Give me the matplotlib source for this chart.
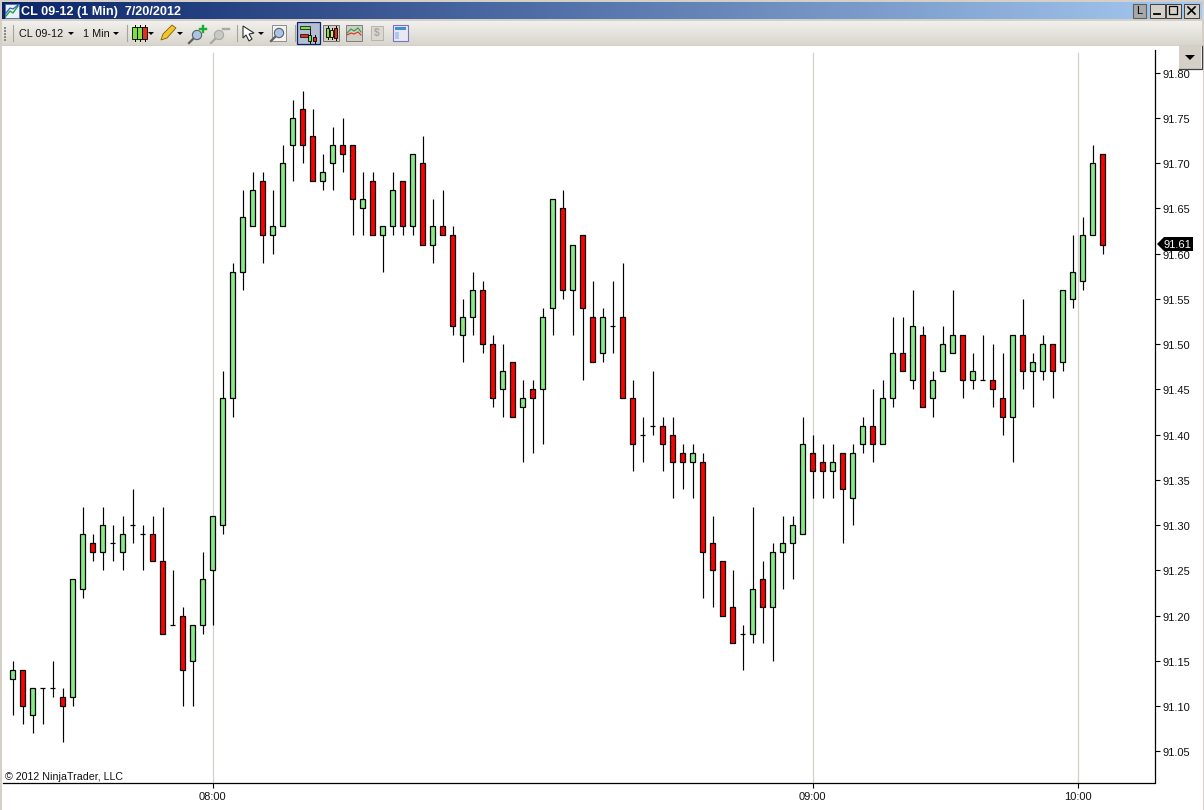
import numpy as np
import matplotlib
matplotlib.use("Agg")
import matplotlib.pyplot as plt
from matplotlib.patches import Polygon, Rectangle, Circle
from matplotlib.ticker import FixedLocator, FixedFormatter
from matplotlib.transforms import ScaledTranslation

plt.rcParams['font.family'] = ['Liberation Sans', 'DejaVu Sans']

# ---- data (price ticks) ----
opens = [91.13,91.14,91.09,91.12,91.12,91.11,91.11,91.23,91.28,91.27,91.28,91.27,91.30,91.29,91.29,91.26,91.19,91.20,91.15,91.19,
         91.25,91.30,91.44,91.58,91.63,91.68,91.62,91.63,91.72,91.76,91.73,91.68,91.70,91.72,91.72,91.65,91.68,91.62,91.63,91.68,
         91.63,91.70,91.61,91.63,91.62,91.51,91.53,91.56,91.50,91.45,91.48,91.43,91.45,91.45,91.54,91.65,91.56,91.62,91.53,91.49,
         91.52,91.53,91.44,91.40,91.41,91.41,91.40,91.38,91.37,91.37,91.28,91.26,91.21,91.18,91.18,91.24,91.21,91.27,91.28,91.29,
         91.38,91.37,91.36,91.38,91.33,91.39,91.41,91.39,91.44,91.49,91.46,91.51,91.44,91.47,91.49,91.51,91.46,91.46,91.46,91.44,
         91.42,91.51,91.47,91.47,91.50,91.48,91.55,91.57,91.62,91.71]
closes = [91.14,91.10,91.12,91.12,91.12,91.10,91.24,91.29,91.27,91.30,91.28,91.29,91.30,91.29,91.26,91.18,91.19,91.14,91.19,91.24,
          91.31,91.44,91.58,91.64,91.67,91.62,91.63,91.70,91.75,91.72,91.68,91.69,91.72,91.71,91.66,91.66,91.62,91.63,91.67,91.63,
          91.71,91.61,91.63,91.62,91.52,91.53,91.56,91.50,91.44,91.47,91.42,91.44,91.44,91.53,91.66,91.56,91.61,91.54,91.48,91.53,
          91.52,91.44,91.39,91.40,91.41,91.39,91.37,91.37,91.38,91.27,91.25,91.20,91.17,91.18,91.23,91.21,91.27,91.28,91.30,91.39,
          91.36,91.36,91.37,91.34,91.38,91.41,91.39,91.44,91.49,91.47,91.52,91.43,91.46,91.50,91.51,91.46,91.47,91.46,91.45,91.42,
          91.51,91.47,91.48,91.50,91.47,91.56,91.58,91.62,91.70,91.61]
highs = [91.15,91.14,91.12,91.12,91.15,91.12,91.24,91.32,91.29,91.32,91.30,91.31,91.34,91.30,91.31,91.32,91.25,91.21,91.19,91.27,
         91.31,91.47,91.59,91.67,91.69,91.69,91.67,91.72,91.77,91.78,91.76,91.71,91.74,91.75,91.72,91.69,91.69,91.63,91.69,91.68,
         91.71,91.73,91.66,91.67,91.63,91.55,91.58,91.57,91.51,91.50,91.48,91.46,91.46,91.54,91.66,91.67,91.61,91.62,91.57,91.54,
         91.57,91.59,91.46,91.42,91.47,91.42,91.42,91.39,91.39,91.38,91.31,91.26,91.25,91.19,91.32,91.26,91.28,91.31,91.31,91.42,
         91.40,91.39,91.39,91.38,91.39,91.42,91.45,91.46,91.53,91.53,91.56,91.52,91.47,91.52,91.56,91.51,91.49,91.51,91.50,91.49,
         91.51,91.55,91.49,91.51,91.50,91.56,91.62,91.64,91.72,91.71]
lows = [91.09,91.08,91.07,91.08,91.11,91.06,91.10,91.22,91.26,91.25,91.26,91.25,91.28,91.25,91.26,91.18,91.19,91.10,91.10,91.18,
        91.19,91.29,91.42,91.56,91.63,91.59,91.60,91.63,91.68,91.70,91.68,91.67,91.67,91.69,91.62,91.62,91.62,91.58,91.62,91.62,
        91.62,91.61,91.59,91.62,91.51,91.48,91.51,91.49,91.43,91.42,91.42,91.37,91.38,91.39,91.51,91.55,91.51,91.46,91.48,91.48,
        91.49,91.44,91.36,91.37,91.40,91.36,91.33,91.34,91.33,91.22,91.21,91.20,91.17,91.14,91.17,91.17,91.15,91.23,91.24,91.29,
        91.33,91.33,91.33,91.28,91.30,91.38,91.37,91.39,91.43,91.47,91.45,91.43,91.42,91.47,91.49,91.44,91.45,91.46,91.43,91.40,
        91.37,91.45,91.43,91.46,91.44,91.47,91.54,91.56,91.62,91.60]
price_ticks = [91.05,91.10,91.15,91.20,91.25,91.30,91.35,91.40,91.45,91.50,91.55,91.60,91.65,91.70,91.75,91.80]
price_labels = ['%.2f' % p for p in price_ticks]
time_ticks = [20, 80, 106.5]
time_labels = ['08:00', '09:00', '10:00']
last_price = '91.61'
copyright_text = '\u00a9 2012 NinjaTrader, LLC'
title_text = 'CL 09-12 (1 Min)  7/20/2012'

W, H = 1204, 810
fig = plt.figure(figsize=(W/100, H/100), dpi=100, facecolor='white')

# ---- chart axes ----
L, R, T, B = 2.5, 1154.5, 50, 782.5
ax = fig.add_axes([L/W, 1-B/H, (R-L)/W, (B-T)/H], facecolor='white')
x = np.arange(len(opens))
ax.set_xlim((L-12.5)/10, (R-12.5)/10)
ppx = 905.3
ax.set_ylim(91.80-(B-72.5)/ppx, 91.80+(72.5-T)/ppx)

for s in ('left', 'top'):
    ax.spines[s].set_visible(False)
for s in ('right', 'bottom'):
    ax.spines[s].set_linewidth(0.9)
ax.yaxis.tick_right()
ax.yaxis.set_major_locator(FixedLocator(price_ticks))
ax.yaxis.set_major_formatter(FixedFormatter(price_labels))
ax.xaxis.set_major_locator(FixedLocator(time_ticks))
ax.xaxis.set_major_formatter(FixedFormatter(time_labels))
ax.tick_params(axis='y', length=3.6, width=0.8, pad=2.2, labelsize=8.0, labelcolor='#111111')
ax.tick_params(axis='x', length=3.6, width=0.8, pad=3.4, labelsize=8.0, labelcolor='#111111')
shift = ScaledTranslation(0, -1/100, fig.dpi_scale_trans)
for lbl in ax.get_yticklabels():
    lbl.set_transform(lbl.get_transform() + shift)

for t in time_ticks:
    ax.plot([t, t], [ax.get_ylim()[0], 91.80+(72.5-53)/ppx], color='#D4D0C8', lw=0.9, zorder=1)

o, c, h, l = map(np.array, (opens, closes, highs, lows))
ax.vlines(x, l, h, color='black', lw=0.85, zorder=2)
up = c >= o
ax.bar(x[up], (c-o)[up], bottom=o[up], width=0.42, color='#86EA86', edgecolor='black', linewidth=0.9, zorder=3)
ax.bar(x[~up], (c-o)[~up], bottom=o[~up], width=0.42, color='#FF0000', edgecolor='black', linewidth=0.9, zorder=3)

# ---- window chrome in pixel coordinates ----
ov = fig.add_axes([0, 0, 1, 1], facecolor='none', zorder=5)
ov.set_xlim(0, W); ov.set_ylim(H, 0); ov.axis('off')

def rect(x0, y0, x1, y1, fc, ec='none', lw=0, z=2):
    ov.add_patch(Rectangle((x0, y0), x1-x0, y1-y0, fc=fc, ec=ec, lw=lw, zorder=z))

GREY = '#D4D0C8'
rect(0, 0, W, 46, GREY, z=0)
rect(0, 0, 2, H, GREY, z=0)
rect(1202.5, 46, W, H, GREY, z=0)

# title bar gradient
c0, c1 = np.array([10, 36, 106])/255, np.array([166, 202, 240])/255
t = np.linspace(0, 1, 256)[None, :, None]
ov.imshow(c0 + (c1-c0)*t, extent=(2, 1202, 19, 2), aspect='auto', zorder=1)
# toolbar gradient
c0, c1 = np.array([241, 240, 237])/255, np.array([216, 214, 204])/255
t = np.linspace(0, 1, 64)[:, None, None]
ov.imshow(np.repeat(c0 + (c1-c0)*t, 4, axis=1), extent=(2, 1202, 45, 21), aspect='auto', zorder=1)
ov.set_xlim(0, W); ov.set_ylim(H, 0)

ov.text(21, 11.5, title_text, color='white', fontsize=9.1, fontweight='bold', va='center', ha='left', zorder=4)
ov.text(19, 33.8, 'CL 09-12', color='#111111', fontsize=7.8, va='center', ha='left', zorder=4)
ov.text(83, 33.8, '1 Min', color='#111111', fontsize=7.8, va='center', ha='left', zorder=4)

# app icon
rect(5, 4, 19, 18, '#E8F0F8', ec='#5070A0', lw=0.6, z=3)
ov.plot([6, 10, 13, 18], [16, 11, 13, 6], color='#20A040', lw=1, zorder=4)
ov.plot([6, 10, 13, 18], [13, 8, 9, 5], color='#2050C0', lw=0.8, zorder=4)

# window buttons
def winbtn(x0, kind):
    rect(x0, 4, x0+15, 18, GREY, ec='#404040', lw=0.7, z=3)
    if kind == 'min':
        ov.plot([x0+3.5, x0+9.5], [13.5, 13.5], color='black', lw=1.3, zorder=4)
    elif kind == 'max':
        rect(x0+3, 6, x0+11, 14, 'none', ec='black', lw=0.9, z=4)
    else:
        ov.plot([x0+4, x0+11], [7, 14], color='black', lw=1.2, zorder=4)
        ov.plot([x0+4, x0+11], [14, 7], color='black', lw=1.2, zorder=4)
rect(1133, 4, 1146, 18, '#A8A8A8', ec='#606060', lw=0.8, z=3)
ov.text(1139.5, 11.5, 'L', fontsize=8, color='black', ha='center', va='center', zorder=4)
winbtn(1150, 'min'); winbtn(1166, 'max'); winbtn(1184, 'x')

# drop-down button at upper right of chart
rect(1179, 46, 1201, 69, GREY, z=6)
ov.plot([1179, 1201.5, 1201.5], [69, 69, 46], color='#404040', lw=0.9, zorder=7)
ov.add_patch(Polygon([(1185, 55), (1195, 55), (1190, 60)], fc='black', ec='none', zorder=7))

# toolbar decoration
def arrow(cx, cy=33.5, s=3):
    ov.add_patch(Polygon([(cx-s, cy-1.5), (cx+s, cy-1.5), (cx, cy+1.5)], fc='black', ec='none', zorder=4))
for sx in (12.5, 126.5, 236.5, 294.5):
    ov.plot([sx, sx], [25, 41], color='#A8A498', lw=0.8, zorder=3)
for gy in (27, 30, 33, 36, 39):
    rect(4, gy, 6, gy+2, '#8A8880', z=3)
for cx in (71, 116, 151, 180, 261):
    arrow(cx)

def candle(cx, y0, y1, col, ww=4.5):
    ov.plot([cx, cx], [y0-2, y1+2], color='black', lw=0.7, zorder=3)
    rect(cx-ww/2, y0, cx+ww/2, y1, col, ec='black', lw=0.6, z=4)

candle(134.5, 27, 39, '#7CE040'); candle(139.5, 27, 39, '#7CE040'); candle(144.5, 27, 39, '#E03020')
# pencil
ov.add_patch(Polygon([(161, 40), (163, 34), (172, 25), (176, 28), (167, 38)], fc='#F4C430', ec='#806000', lw=0.6, zorder=4))
def lens(cx, cy, col, ec):
    ov.plot([cx-8, cx-3], [cy+8, cy+3], color=ec, lw=1.6, zorder=4)
    ov.add_patch(Circle((cx, cy), 4.6, fc=col, ec=ec, lw=0.8, zorder=4))
lens(197, 35, '#A8C4E8', '#606060')
ov.plot([200, 206], [29, 29], color='#10B030', lw=1.7, zorder=5)
ov.plot([203, 203], [26, 32], color='#10B030', lw=1.7, zorder=5)
lens(219, 35, '#C8C8C4', '#A8A8A4')
ov.plot([223, 229], [29, 29], color='#A8A8A4', lw=1.7, zorder=5)
# cursor
ov.add_patch(Polygon([(243, 26), (243, 38), (246, 35), (249, 41), (252, 39), (249, 34), (254, 33)],
                     fc='white', ec='#303030', lw=0.8, zorder=4))
rect(272, 25, 286, 41, '#F2F2F0', ec='#808080', lw=0.6, z=3)
lens(279, 33, '#A8C4E8', '#606060')
# selected tool
rect(297, 22, 320, 44, '#B4BED2', ec='#0A246A', lw=0.9, z=3)
rect(300, 26, 310, 29, '#7CE040', ec='black', lw=0.5, z=4)
rect(300, 34, 308, 37, '#E03020', ec='black', lw=0.5, z=4)
candle(309.5, 35, 41, '#7CE040', ww=3)
candle(314.5, 37, 41, '#E03020', ww=3)
ov.plot([309.5, 309.5], [29, 35], color='black', lw=0.6, zorder=3)
# candles, gridded
rect(323, 25, 339, 41, '#CFCDC4', ec='#606060', lw=0.6, z=3)
candle(327.5, 28, 37, '#7CE040', ww=3); candle(331.5, 30, 37, '#E8E060', ww=3); candle(335.5, 28, 38, '#E03020', ww=3)
# area chart
rect(346, 25, 362, 41, '#CFCDC4', ec='#707070', lw=0.6, z=3)
ov.plot([347, 351, 354, 358, 361], [33, 29, 31, 28, 32], color='#20A040', lw=0.8, zorder=4)
ov.plot([347, 351, 354, 358, 361], [35, 33, 34, 32, 35], color='#E03020', lw=0.8, zorder=4)
# dollar page
rect(371, 26, 383, 40, '#DAD8D0', ec='#B0AEA6', lw=0.6, z=3)
ov.text(377, 33, '$', fontsize=7.5, fontweight='bold', color='#A8A8A0', ha='center', va='center', zorder=4)
# panel
rect(393, 25, 408, 41, '#E8E8F4', ec='#8070C0', lw=0.8, z=3)
rect(395, 27, 406, 30, '#4090D0', z=4)
rect(395, 32, 399, 39, '#B0C8F0', z=4)

# last price flag
pts = [(1157, 244), (1164, 237), (1193, 237), (1193, 251), (1164, 251)]
ov.add_patch(Polygon(pts, fc='black', ec='none', zorder=6))
ov.text(1177.5, 244.5, last_price, color='white', fontsize=8.0, ha='center', va='center', zorder=7)
# copyright
ov.text(5, 777, copyright_text, color='#111111', fontsize=7.7, ha='left', va='center', zorder=7)

fig.savefig('out.png', dpi=100)
